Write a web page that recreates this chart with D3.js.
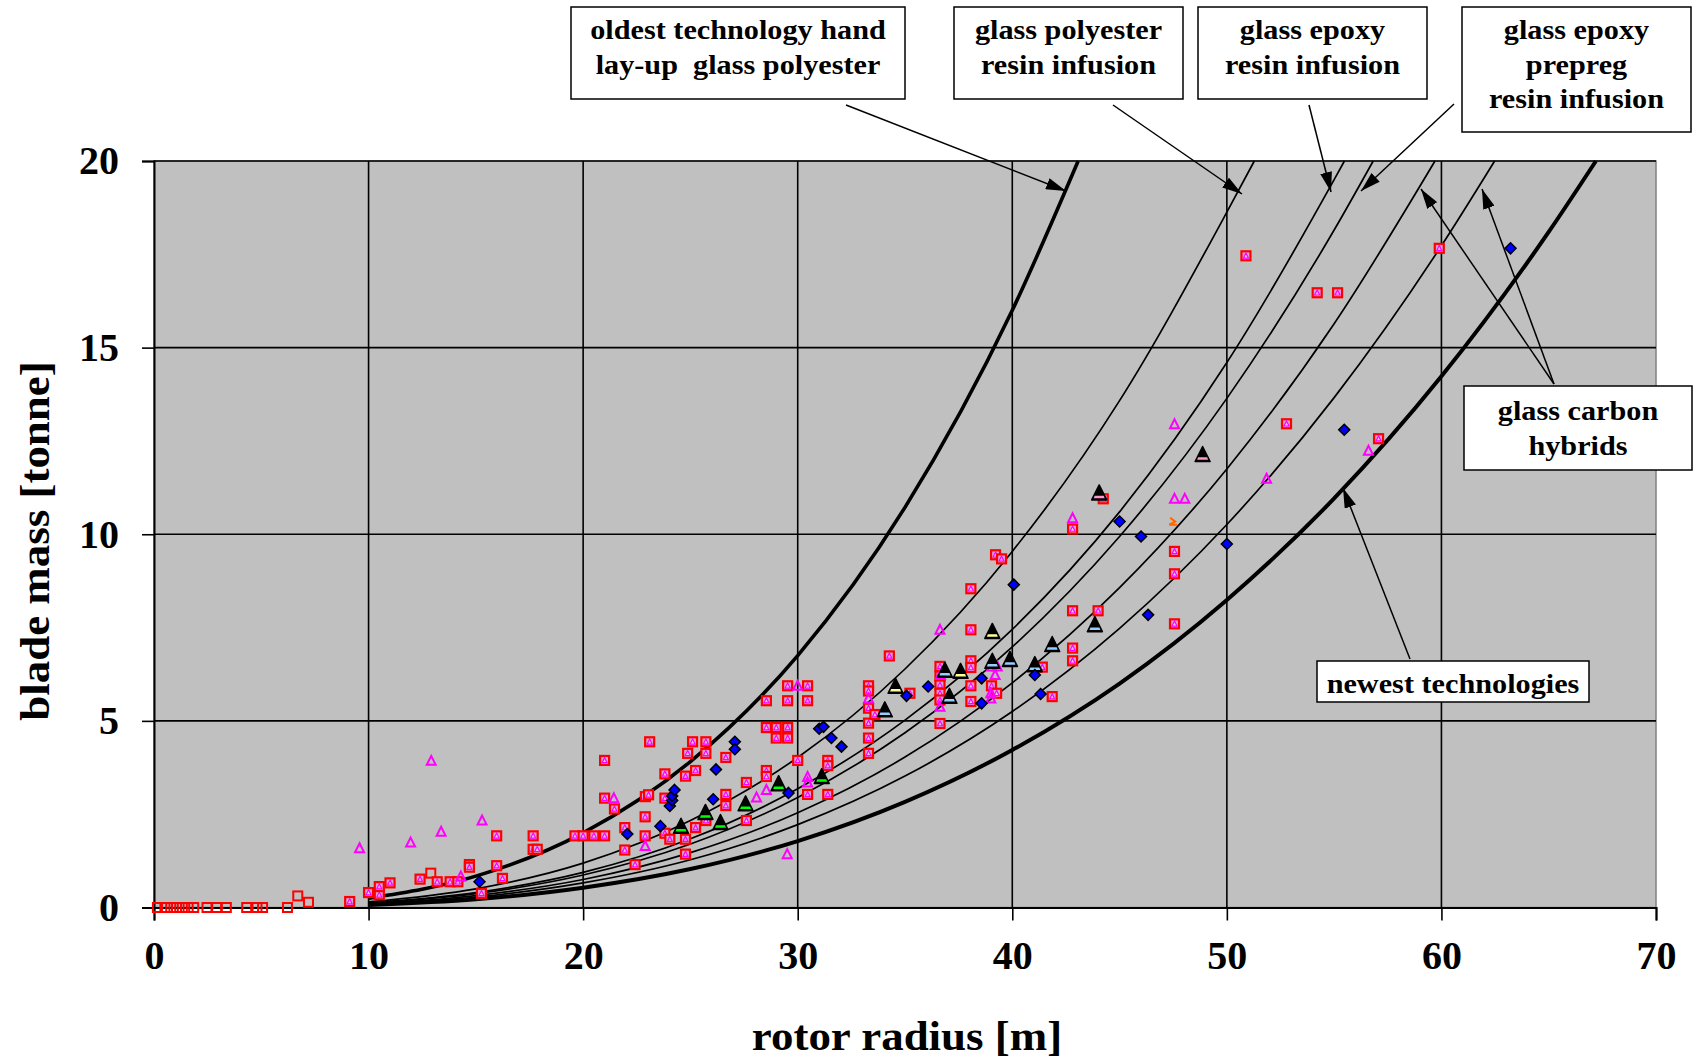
<!DOCTYPE html>
<html>
<head>
<meta charset="utf-8">
<script src="https://cdn.jsdelivr.net/npm/d3@7"></script>
<style>
  body { margin: 0; background: #fff; }
  text { font-family: "Liberation Serif", "Times New Roman", serif; font-weight: bold; fill: #000; }
</style>
</head>
<body>
<div id="chart"></div>
<script>
// tick labels
const xTicks = [0, 10, 20, 30, 40, 50, 60, 70];
const yTicks = [0, 5, 10, 15, 20];

// fitted trend curves [radius, mass]
const curveOldest = [[10,0.25],[15,0.84],[20,2.0],[25,3.91],[30,6.75],[35,10.72],[40,16.0],[43.07,20]];
const curvePolyester = [[10,0.15],[15,0.50],[20,1.19],[25,2.33],[30,4.02],[35,6.39],[40,9.54],[45,13.58],[50,18.63],[51.28,20]];
const curveEpoxy = [[10,0.12],[15,0.40],[20,0.94],[25,1.84],[30,3.18],[35,5.02],[40,7.45],[45,10.6],[50,14.6],[55,19.5],[55.48,20]];
const curvePrepreg = [[10,0.11],[15,0.37],[20,0.87],[25,1.70],[30,2.95],[35,4.68],[40,6.98],[45,9.94],[50,13.64],[55,18.15],[56.82,20]];
const curveHybrid1 = [[10,0.09],[15,0.32],[20,0.75],[25,1.47],[30,2.54],[35,4.03],[40,6.02],[45,8.57],[50,11.75],[55,15.64],[59.7,20]];
const curveHybrid2 = [[10,0.08],[15,0.28],[20,0.66],[25,1.28],[30,2.22],[35,3.52],[40,5.25],[45,7.48],[50,10.26],[55,13.66],[60,17.73],[62.48,20]];
const curveNewest = [[10,0.07],[15,0.22],[20,0.53],[25,1.03],[30,1.78],[35,2.83],[40,4.22],[45,6.0],[50,8.24],[55,10.96],[60,14.23],[65,18.1],[67.2,20]];

// measured blades [radius, mass]
const redOpenSquares = [[0.16,0],[0.51,0],[0.78,0],[1.05,0],[1.32,0],[1.59,0],[1.85,0],[2.47,0],[2.92,0],[3.37,0],[4.32,0],[4.8,0],[5.06,0],[6.22,0],[6.7,0.31],[7.2,0.14],[12.9,0.92]];
const redSquares = [[9.12,0.16],[10.0,0.40],[10.5,0.34],[10.5,0.56],[11.0,0.66],[12.4,0.76],[13.2,0.69],[13.8,0.69],[14.16,0.69],[14.7,1.15],[14.7,1.08],[15.26,0.38],[15.97,1.92],[15.97,1.12],[16.24,0.78],[17.67,1.92],[17.67,1.56],[17.86,1.56],[19.62,1.92],[20.0,1.92],[20.5,1.92],[21.0,1.92],[21.0,3.94],[21.0,2.93],[21.46,2.64],[21.94,2.14],[21.94,1.54],[22.42,1.15],[22.89,2.43],[22.89,1.92],[22.9,2.97],[23.05,3.02],[23.1,4.44],[23.81,3.58],[23.81,2.93],[23.81,1.99],[24.04,1.83],[24.77,3.52],[24.77,1.83],[24.77,1.43],[24.87,4.13],[25.1,4.44],[25.24,3.67],[25.24,2.14],[25.72,4.44],[25.72,4.13],[25.72,2.33],[26.65,4.02],[26.65,3.03],[26.65,2.73],[27.61,3.35],[27.61,2.33],[28.54,5.54],[28.54,4.82],[28.54,3.67],[28.54,3.51],[29.0,4.82],[29.0,4.54],[29.53,5.94],[29.53,5.54],[29.53,4.82],[29.53,4.54],[30.0,3.94],[30.46,5.94],[30.46,5.54],[30.46,3.03],[31.4,3.94],[31.4,3.8],[31.4,3.03],[33.3,5.94],[33.3,5.8],[33.3,5.34],[33.3,4.94],[33.3,4.54],[33.3,4.13],[33.6,5.17],[34.27,6.74],[35.23,5.74],[36.63,6.46],[36.63,6.2],[36.63,5.96],[36.63,5.74],[36.63,5.56],[36.63,4.93],[38.07,7.44],[38.07,6.61],[38.07,6.43],[38.07,5.94],[38.07,5.52],[38.07,8.54],[39.03,5.94],[39.27,5.74],[39.22,9.45],[39.5,9.34],[41.4,6.44],[41.86,5.65],[42.81,7.95],[42.81,6.95],[42.81,6.61],[42.81,10.14],[44.0,7.95],[44.24,10.95],[47.56,7.6],[47.56,9.54],[47.56,8.94],[50.89,17.46],[52.78,12.96],[54.21,16.47],[55.16,16.47],[57.07,12.56],[59.9,17.66]];
const magentaTriangles = [[9.58,1.59],[11.96,1.74],[12.92,3.93],[13.38,2.03],[14.3,0.83],[15.29,2.33],[21.43,2.93],[22.89,1.65],[28.08,2.95],[28.54,3.15],[29.51,1.43],[30.0,5.94],[30.46,3.5],[30.46,3.35],[33.3,5.6],[36.63,7.44],[36.63,5.38],[36.65,6.23],[39.04,6.46],[39.3,6.46],[39.2,6.23],[39.0,5.74],[39.0,5.6],[42.81,10.43],[47.56,12.95],[47.56,10.95],[48.04,10.95],[51.85,11.49],[56.6,12.24]];
const blueDiamonds = [[15.17,0.69],[22.06,1.97],[23.6,2.18],[24.04,2.72],[24.15,2.87],[24.15,2.99],[24.26,3.15],[26.06,2.9],[26.19,3.7],[27.07,4.44],[27.07,4.24],[29.57,3.07],[31.0,4.79],[31.2,4.84],[31.57,4.54],[32.04,4.31],[35.07,5.67],[36.08,5.92],[38.57,6.14],[38.57,5.47],[40.07,8.65],[41.05,6.23],[41.32,5.72],[45.0,10.34],[46.0,9.94],[46.33,7.84],[50.0,9.74],[55.47,12.8],[63.22,17.66]];
const greenTriangles = [[24.56,2.17],[25.7,2.54],[26.4,2.27],[27.57,2.77],[29.11,3.31],[31.12,3.5]];
const blueTriangles = [[34.06,5.29],[36.86,6.35],[37.07,5.65],[39.07,6.59],[39.89,6.64],[41.05,6.5],[41.86,7.04],[43.85,7.57]];
const yellowTriangles = [[34.56,5.92],[37.59,6.32],[39.07,7.39]];
const pinkTriangles = [[44.05,11.1],[48.87,12.13]];
const orangeMarks = [[47.5,10.31]];

const width = 1694, height = 1061;
const svg = d3.select("#chart").append("svg").attr("width", width).attr("height", height);
svg.append("rect").attr("width", width).attr("height", height).attr("fill", "#fff");

const x = d3.scaleLinear().domain([0, 70]).range([154, 1656]);
const y = d3.scaleLinear().domain([0, 20]).range([907.5, 161]);

// plot background
svg.append("rect")
  .attr("x", x(0)).attr("y", y(20))
  .attr("width", x(70) - x(0)).attr("height", y(0) - y(20))
  .attr("fill", "#c0c0c0").attr("stroke", "#808080").attr("stroke-width", 1.5);

// grid
svg.append("g").selectAll("line").data(xTicks.slice(1, -1)).join("line")
  .attr("x1", d => x(d)).attr("x2", d => x(d)).attr("y1", y(20)).attr("y2", y(0))
  .attr("stroke", "#000").attr("stroke-width", 1.6);
svg.append("g").selectAll("line").data(yTicks.slice(1)).join("line")
  .attr("x1", x(0)).attr("x2", x(70)).attr("y1", d => y(d)).attr("y2", d => y(d))
  .attr("stroke", "#000").attr("stroke-width", 1.6);

// axes
let xAxis = svg.append("g").attr("transform", `translate(0,${y(0)})`)
  .call(d3.axisBottom(x).tickValues(xTicks).tickSize(13).tickPadding(20));
let yAxis = svg.append("g").attr("transform", `translate(${x(0)},0)`)
  .call(d3.axisLeft(y).tickValues(yTicks).tickSize(12).tickPadding(23));
[xAxis, yAxis].forEach(function (a) {
  a.select(".domain").attr("stroke", "#000").attr("stroke-width", 2);
  a.selectAll(".tick line").attr("stroke", "#000").attr("stroke-width", 1.6);
  a.selectAll(".tick text")
    .attr("font-family", "Liberation Serif, Times New Roman, serif")
    .attr("font-weight", "bold").attr("font-size", 40).attr("fill", "#000");
});

svg.append("text").attr("transform", "translate(907,1050) scale(1.07,1)").attr("text-anchor", "middle")
  .attr("font-size", 42).text("rotor radius [m]");
svg.append("text").attr("transform", "translate(49,541) rotate(-90) scale(1.07,1)").attr("text-anchor", "middle")
  .attr("font-size", 42).text("blade mass [tonne]");

// trend curves
const line = d3.line().x(d => x(d[0])).y(d => y(d[1])).curve(d3.curveMonotoneX);
const curves = [
  { data: curveOldest, w: 3.6 },
  { data: curvePolyester, w: 1.7 },
  { data: curveEpoxy, w: 1.7 },
  { data: curvePrepreg, w: 1.7 },
  { data: curveHybrid1, w: 1.7 },
  { data: curveHybrid2, w: 1.7 },
  { data: curveNewest, w: 4 }
];
const plot = svg.append("g");
plot.selectAll("path.curve").data(curves).join("path")
  .attr("class", "curve")
  .attr("d", d => line(d.data))
  .attr("fill", "none").attr("stroke", "#000").attr("stroke-width", d => d.w);

// markers
function tri(s) {
  return `M0,${-s * 0.55}L${s / 2},${s * 0.45}L${-s / 2},${s * 0.45}Z`;
}
plot.append("g").selectAll("rect").data(redOpenSquares).join("rect")
  .attr("x", d => x(d[0]) - 4.5).attr("y", d => y(d[1]) - 4.5)
  .attr("width", 9).attr("height", 9)
  .attr("fill", "none").attr("stroke", "#ff0000").attr("stroke-width", 2);

let rs = plot.append("g").selectAll("g").data(redSquares).join("g")
  .attr("transform", d => `translate(${x(d[0])},${y(d[1])})`);
rs.append("rect").attr("x", -4.5).attr("y", -4.5).attr("width", 9).attr("height", 9)
  .attr("fill", "#d6a0d6").attr("stroke", "#ff0000").attr("stroke-width", 2.2);
rs.append("path").attr("d", tri(5)).attr("fill", "#f0c0f0")
  .attr("stroke", "#ff00ff").attr("stroke-width", 1.2);

plot.append("g").selectAll("path").data(magentaTriangles).join("path")
  .attr("transform", d => `translate(${x(d[0])},${y(d[1])})`)
  .attr("d", tri(9)).attr("fill", "none").attr("stroke", "#ff00ff").attr("stroke-width", 2);

const outlined = [
  { data: greenTriangles, color: "#00ff00" },
  { data: blueTriangles, color: "#99ccff" },
  { data: yellowTriangles, color: "#ffff99" },
  { data: pinkTriangles, color: "#ff99cc" }
];
outlined.forEach(function (s) {
  let g = plot.append("g").selectAll("g").data(s.data).join("g")
    .attr("transform", d => `translate(${x(d[0])},${y(d[1])})`);
  g.append("path").attr("d", tri(15)).attr("fill", "#000")
    .attr("stroke", "#000").attr("stroke-width", 1.5).attr("stroke-linejoin", "round");
  g.append("path").attr("d", "M-4.5,2.5L4.5,2.5L5.5,5L-5.5,5Z").attr("fill", s.color);
});

plot.append("g").selectAll("path").data(blueDiamonds).join("path")
  .attr("transform", d => `translate(${x(d[0])},${y(d[1])})`)
  .attr("d", "M0,-5.5L5.5,0L0,5.5L-5.5,0Z")
  .attr("fill", "#0000ff").attr("stroke", "#000").attr("stroke-width", 1.5);

plot.append("g").selectAll("path").data(orangeMarks).join("path")
  .attr("transform", d => `translate(${x(d[0])},${y(d[1])})`)
  .attr("d", "M-3,-5L2,-1L-4,2M-4,2L4,2")
  .attr("fill", "none").attr("stroke", "#ff6600").attr("stroke-width", 2);

// annotations
const defs = svg.append("defs");
defs.append("marker").attr("id", "arrow").attr("viewBox", "0 0 20 12")
  .attr("refX", 20).attr("refY", 6).attr("markerWidth", 20).attr("markerHeight", 12)
  .attr("markerUnits", "userSpaceOnUse").attr("orient", "auto")
  .append("path").attr("d", "M0,0L20,6L0,12Z").attr("fill", "#000");

const arrows = [
  [846, 105, 1066, 191],
  [1113, 105, 1242, 194],
  [1309, 105, 1331, 192],
  [1454, 104, 1361, 191],
  [1554, 384, 1421, 189],
  [1554, 384, 1482, 189],
  [1410, 659, 1343, 488]
];
svg.append("g").selectAll("line").data(arrows).join("line")
  .attr("x1", d => d[0]).attr("y1", d => d[1]).attr("x2", d => d[2]).attr("y2", d => d[3])
  .attr("stroke", "#000").attr("stroke-width", 1.5).attr("marker-end", "url(#arrow)");

const boxes = [
  { x: 571, y: 7, w: 334, h: 92, lines: ["oldest technology hand", "lay-up  glass polyester"], base: 39 },
  { x: 954, y: 7, w: 229, h: 92, lines: ["glass polyester", "resin infusion"], base: 39 },
  { x: 1198, y: 7, w: 229, h: 92, lines: ["glass epoxy", "resin infusion"], base: 39 },
  { x: 1462, y: 7, w: 229, h: 125, lines: ["glass epoxy", "prepreg", "resin infusion"], base: 39 },
  { x: 1464, y: 386, w: 228, h: 84, lines: ["glass carbon", "hybrids"], base: 420 },
  { x: 1317, y: 661, w: 272, h: 41, lines: ["newest technologies"], base: 693 }
];
let bg = svg.append("g").selectAll("g").data(boxes).join("g");
bg.append("rect").attr("x", d => d.x).attr("y", d => d.y).attr("width", d => d.w).attr("height", d => d.h)
  .attr("fill", "#fff").attr("stroke", "#000").attr("stroke-width", 1.5);
bg.each(function (d) {
  d3.select(this).selectAll("text").data(d.lines).join("text")
    .attr("transform", (t, i) => `translate(${d.x + d.w / 2},${d.base + i * 34.5}) scale(1.12,1)`)
    .attr("text-anchor", "middle").attr("font-size", 27)
    .style("white-space", "pre").text(t => t);
});
</script>
</body>
</html>
